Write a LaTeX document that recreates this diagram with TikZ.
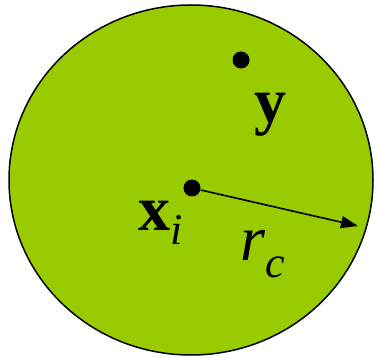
\documentclass[tikz,border=0pt]{standalone}
\usepackage{fontspec}
\setmainfont{Liberation Serif}
\usetikzlibrary{arrows.meta}
\definecolor{blobgreen}{RGB}{153,204,0}
\tikzset{
  dotnode/.style={circle,fill=black,inner sep=0pt,minimum size=17pt},
  lbl/.style={inner sep=0pt,anchor=base west,font=\fontsize{64}{64}\selectfont},
  radius arrow/.style={line width=1.6pt,-{Triangle[length=17pt,width=12pt]}}
}
\newcommand{\subsz}{\fontsize{44}{44}\selectfont\mdseries\itshape}
\begin{document}
\begin{tikzpicture}[x=1pt,y=-1pt]
\useasboundingbox (0,0) rectangle (375,358);
\draw[fill=blobgreen,line width=1.5pt] (191,180) ellipse [x radius=182, y radius=175];
\node[dotnode] (y) at (241,60) {};
\node[dotnode] (xi) at (192,188) {};
\coordinate (rim) at (358,226);
\draw[radius arrow] (xi.east) ++(0,2) coordinate (start) (start) -- (rim);
\node[lbl] (ylabel) at (254,123) {\bfseries y};
\node[lbl] (xlabel) at (138,231) {\bfseries x\raisebox{-14pt}{\subsz i}};
\node[lbl] (rlabel) at (240,261) {\itshape r\raisebox{-17pt}{\subsz c}};
\end{tikzpicture}
\end{document}
